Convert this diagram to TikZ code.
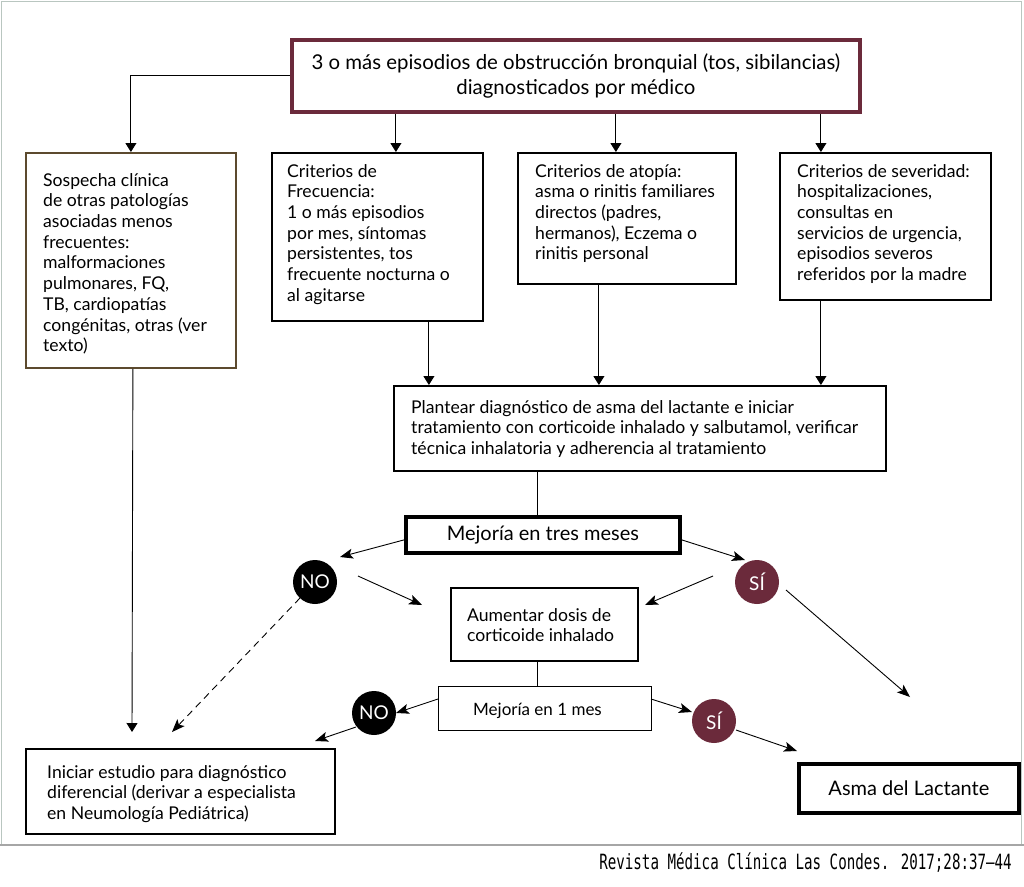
\documentclass[tikz,border=0pt]{standalone}
\usepackage{fontspec}
\setmainfont{Lato}
\newfontfamily\footfont{DejaVu Sans Mono}
\usetikzlibrary{arrows.meta,calc}
\definecolor{maroon}{HTML}{6B2A3B}
\definecolor{brownb}{HTML}{5C4A2E}
\definecolor{framec}{HTML}{B9C6C0}
\begin{document}
\begin{tikzpicture}[x=1pt,y=-1pt,
  box/.style={draw, line width=1.8pt, anchor=north west, inner sep=0pt},
  thick box/.style={draw, line width=3.8pt, anchor=north west, inner sep=0pt},
  txt/.style={anchor=north west, inner sep=0pt, align=left, font=\fontsize{17.6}{20.7}\selectfont},
  varr/.style={line width=0.9pt, -{Triangle[length=9pt,width=11pt]}},
  darr/.style={line width=0.9pt, -{Stealth[length=13pt,width=10pt,inset=3pt]}},
  plain/.style={line width=0.9pt},
  yes/.style={circle, fill=maroon, text=white, minimum size=44pt, inner sep=0pt, font=\fontsize{19}{22}\selectfont},
  no/.style={circle, fill=black, text=white, minimum size=44pt, inner sep=0pt, font=\fontsize{19}{22}\selectfont}]
\useasboundingbox (0,0) rectangle (1024,886);
\fill[white] (0,0) rectangle (1024,886);
\draw[framec, line width=1.5pt] (1.5,1.5) rectangle (1021.5,845);
\draw[gray!70, line width=1.2pt] (0,845) -- (1024,845);

% boxes
\node[thick box, draw=maroon, minimum width=568, minimum height=72, align=center,
      font=\fontsize{20.4}{25}\selectfont] (top) at (290,38)
  {3 o más episodios de obstrucción bronquial (tos, sibilancias)\\diagnosticados por médico};
\node[box, draw=brownb, minimum width=210, minimum height=215] (left) at (25,152) {};
\node[box, minimum width=211, minimum height=168] (frec) at (271,152) {};
\node[box, minimum width=218, minimum height=131] (atop) at (517,152) {};
\node[box, minimum width=211, minimum height=147] (sev) at (779,152) {};
\node[box, minimum width=492, minimum height=85] (plan) at (393,385) {};
\node[thick box, minimum width=274, minimum height=36, font=\fontsize{20}{22}\selectfont] (mej3) at (404,515) {Mejoría en tres meses};
\node[box, minimum width=187, minimum height=73] (aum) at (450,587) {};
\node[box, line width=1.3pt, minimum width=213, minimum height=44] (mej1) at (438,686) {};
\node[box, minimum width=309, minimum height=85] (ini) at (25,748) {};
\node[thick box, minimum width=220, minimum height=49, font=\fontsize{20}{22}\selectfont] (asma) at (797,762) {Asma del Lactante};

% texts
\node[txt] (leftT) at (43,173) {Sospecha clínica\\de otras patologías\\asociadas menos\\frecuentes:\\malformaciones\\pulmonares, FQ,\\TB, cardiopatías\\congénitas, otras (ver\\texto)};
\node[txt] (frecT) at (287,164) {Criterios de\\Frecuencia:\\1 o más episodios\\por mes, síntomas\\persistentes, tos\\frecuente nocturna o\\al agitarse};
\node[txt] (atopT) at (535,164) {Criterios de atopía:\\asma o rinitis familiares\\directos (padres,\\hermanos), Eczema o\\rinitis personal};
\node[txt] (sevT) at (797,164) {Criterios de severidad:\\hospitalizaciones,\\consultas en\\servicios de urgencia,\\episodios severos\\referidos por la madre};
\node[txt] (planT) at (411,400) {Plantear diagnóstico de asma del lactante e iniciar\\tratamiento con corticoide inhalado y salbutamol, verificar\\técnica inhalatoria y adherencia al tratamiento};
\node[txt] (aumT) at (467,608) {Aumentar dosis de\\corticoide inhalado};
\node[txt, font=\fontsize{17}{20}\selectfont] (mej1T) at (473,703) {Mejoría en 1 mes};
\node[txt] (iniT) at (47,765) {Iniciar estudio para diagnóstico\\diferencial (derivar a especialista\\en Neumología Pediátrica)};

% circles
\node[no] (no1) at (315,582) {NO};
\node[yes] (si1) at (757,582) {SÍ};
\node[no] (no2) at (374,713) {NO};
\node[yes] (si2) at (714,721) {SÍ};

% footer
\node[anchor=base east, inner sep=0pt, font=\footfont\fontsize{21}{24}\selectfont] (foot) at (1012,869)
  {\scalebox{0.675}[1]{Revista Médica Clínica Las Condes. 2017;28:37–44}};

% connectors from top
\draw[varr] (top.west) -| (left.north);
\draw[varr] ([xshift=18.5pt]frec.north |- top.south) -- ([xshift=18.5pt]frec.north);
\draw[varr] ([xshift=-11pt]atop.north |- top.south) -- ([xshift=-11pt]atop.north);
\draw[varr] ([xshift=-64.5pt]sev.north |- top.south) -- ([xshift=-64.5pt]sev.north);
% to plan
\draw[varr] ([xshift=51.5pt]frec.south) -- ([xshift=51.5pt]frec.south |- plan.north);
\draw[varr] ([xshift=-28pt]atop.south) -- ([xshift=-28pt]atop.south |- plan.north);
\draw[varr] ([xshift=-64.5pt]sev.south) -- ([xshift=-64.5pt]sev.south |- plan.north);
\draw[plain] ([xshift=-102pt]plan.south) -- ([xshift=-102pt]plan.south |- mej3.north);

% free ends
\coordinate (e1) at (340,557);
\coordinate (e2) at (745,560);
\coordinate (s3) at (358,576); \coordinate (e3) at (422,605);
\coordinate (s4) at (713,576); \coordinate (e4) at (645,605);
\coordinate (s5) at (786,590); \coordinate (e5) at (910,697);
\coordinate (s6) at (300,598); \coordinate (e6) at (172,732);
\coordinate (e7) at (132,732);
\coordinate (s9) at (438,699); \coordinate (e9) at (396,713);
\coordinate (s10) at (356,727); \coordinate (e10) at (315,741);
\coordinate (s11) at (651,699); \coordinate (e11) at (692,712);
\coordinate (s12) at (736,730); \coordinate (e12) at (797,751);

\draw[darr] ([yshift=-5pt]mej3.west) -- (e1);
\draw[darr] ([yshift=-5pt]mej3.east) -- (e2);
\draw[darr] (s3) -- (e3);
\draw[darr] (s4) -- (e4);
\draw[darr] (s5) -- (e5);
\draw[darr, dashed, dash pattern=on 7pt off 5pt] (s6) -- (e6);
\draw[varr] ([xshift=2pt]left.south) -- (e7);
\draw[plain] ([xshift=-6.5pt]aum.south) -- ([xshift=-6.5pt]aum.south |- mej1.north);
\draw[darr] (s9) -- (e9);
\draw[darr] (s10) -- (e10);
\draw[darr] (s11) -- (e11);
\draw[darr] (s12) -- (e12);
\end{tikzpicture}
\end{document}
